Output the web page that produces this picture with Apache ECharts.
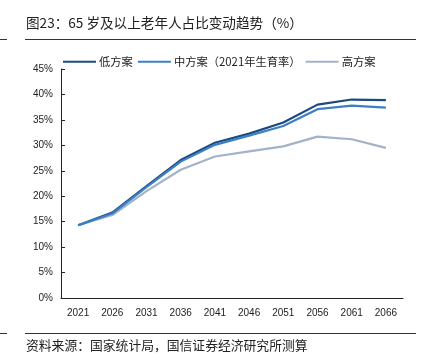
<!DOCTYPE html>
<html><head><meta charset="utf-8">
<script src="https://cdn.jsdelivr.net/npm/echarts@6/dist/echarts.min.js"></script>
<style>html,body{margin:0;padding:0;background:#fff}#c{width:428px;height:363px}</style>
</head><body><div id="c"></div>
<script>
const categories = ['2021','2026','2031','2036','2041','2046','2051','2056','2061','2066'];
const lowPlan = [14.3, 16.8, 22.0, 27.1, 30.5, 32.3, 34.5, 38.0, 39.0, 38.9];
const midPlan = [14.3, 16.6, 21.8, 26.8, 30.1, 31.9, 33.8, 37.1, 37.8, 37.4];
const highPlan = [14.3, 16.3, 21.0, 25.2, 27.8, 28.8, 29.8, 31.7, 31.2, 29.5];
const seriesNames = ['低方案', '中方案（2021年生育率）', '高方案'];
const titleText = '图23：65 岁及以上老年人占比变动趋势（%）';
const sourceText = '资料来源：国家统计局，国信证券经济研究所测算';

const chart = echarts.init(document.getElementById('c'));
const font = '"Noto Sans CJK SC", "Noto Sans", sans-serif';
const colors = ['#1b4a80', '#3c7fc6', '#a3b3c6'];
chart.setOption({
  animation: false,
  textStyle: { fontFamily: font },
  graphic: [
    { type: 'text', left: 26, top: 16, style: { text: titleText, font: '13.6px ' + font, fill: '#222' } },
    { type: 'line', shape: { x1: 25, y1: 39.5, x2: 416, y2: 39.5 }, style: { stroke: '#333', lineWidth: 1 } },
    { type: 'line', shape: { x1: 0, y1: 39.5, x2: 7, y2: 39.5 }, style: { stroke: '#333', lineWidth: 1 } },
    { type: 'line', shape: { x1: 25, y1: 333.5, x2: 416, y2: 333.5 }, style: { stroke: '#333', lineWidth: 1 } },
    { type: 'line', shape: { x1: 0, y1: 333.5, x2: 7, y2: 333.5 }, style: { stroke: '#333', lineWidth: 1 } },
    { type: 'text', left: 26, top: 339, style: { text: sourceText, font: '12.8px ' + font, fill: '#222' } }
  ],
  legend: {
    top: 51, left: 58, itemGap: 5, itemWidth: 33, itemHeight: 10,
    icon: 'path://M0,4L33,4L33,6L0,6Z',
    textStyle: { fontSize: 11.3, color: '#222', fontFamily: font, padding: [0, 0, 0, -2] },
    data: seriesNames
  },
  grid: { left: 61, right: 25, top: 69, bottom: 65, containLabel: false },
  xAxis: {
    type: 'category', data: categories, boundaryGap: true,
    axisLine: { lineStyle: { color: '#222', width: 1 } },
    axisTick: { show: false },
    axisLabel: { color: '#222', fontSize: 10, margin: 10, fontFamily: 'Liberation Sans, Arial, sans-serif' }
  },
  yAxis: {
    type: 'value', min: 0, max: 45, interval: 5,
    axisLine: { show: true, lineStyle: { color: '#222', width: 1 } },
    axisTick: { show: true, inside: true, length: 4, lineStyle: { color: '#222' } },
    splitLine: { show: false },
    axisLabel: { color: '#222', fontSize: 10, formatter: '{value}%', margin: 8, fontFamily: 'Liberation Sans, Arial, sans-serif' }
  },
  series: [
    { name: seriesNames[0], type: 'line', data: lowPlan, symbol: 'none', lineStyle: { width: 2.2, color: colors[0] }, itemStyle: { color: colors[0] }, z: 3 },
    { name: seriesNames[1], type: 'line', data: midPlan, symbol: 'none', lineStyle: { width: 2.2, color: colors[1] }, itemStyle: { color: colors[1] }, z: 4 },
    { name: seriesNames[2], type: 'line', data: highPlan, symbol: 'none', lineStyle: { width: 2.2, color: colors[2] }, itemStyle: { color: colors[2] }, z: 2 }
  ]
});
</script></body></html>
